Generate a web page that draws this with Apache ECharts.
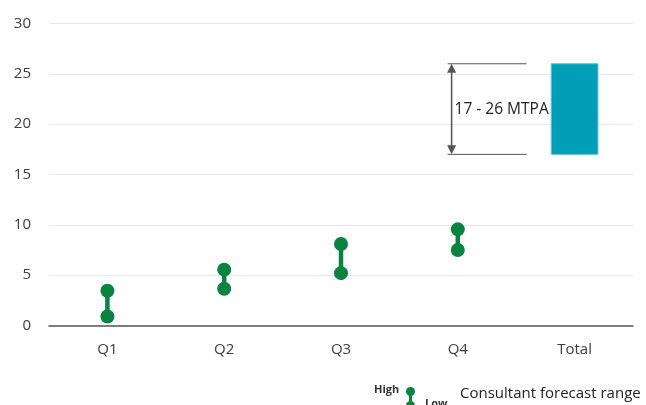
<!DOCTYPE html>
<html>
<head>
<meta charset="utf-8">
<script src="https://cdn.jsdelivr.net/npm/echarts@6/dist/echarts.min.js"></script>
<style>
  html, body { margin: 0; padding: 0; background: #fff; }
  #chart { width: 646px; height: 405px; }
</style>
</head>
<body>
<div id="chart"></div>
<script>
// Quarterly consultant forecast ranges (MTPA) and the full-year total range
const categories = ['Q1', 'Q2', 'Q3', 'Q4', 'Total'];
const lowValues  = [0.9, 3.65, 5.2, 7.5];
const highValues = [3.45, 5.55, 8.1, 9.55];
const totalRange = [17, 26];
const yTicks = [0, 5, 10, 15, 20, 25, 30];
const unitLabel = 'MTPA';
const legendText = 'Consultant forecast range';

const GREEN = '#0a8240';
const TEAL = '#009fb7';
const FONT = '"Open Sans"';
const TEXT = '#3d3d3d';

const rangeData = lowValues.map((lo, i) => [i, lo, highValues[i]]);
const totalIdx = categories.indexOf('Total');

const chart = echarts.init(document.getElementById('chart'), null, { renderer: 'canvas' });

chart.setOption({
  animation: false,
  grid: { left: 49, right: 13, top: 23.5, bottom: 79.5 },
  xAxis: {
    type: 'category',
    data: categories,
    axisLine: { lineStyle: { color: '#555', width: 1.5 } },
    axisTick: { show: false },
    axisLabel: { color: TEXT, fontFamily: FONT, fontSize: 15, margin: 17 }
  },
  yAxis: {
    type: 'value',
    min: yTicks[0],
    max: yTicks[yTicks.length - 1],
    interval: yTicks[1] - yTicks[0],
    axisLine: { show: false },
    axisTick: { show: false },
    splitLine: { lineStyle: { color: '#e8e8e8', width: 1 } },
    axisLabel: { color: TEXT, fontFamily: FONT, fontSize: 15, margin: 18 }
  },
  series: [
    {
      // low–high dumbbells per quarter
      type: 'custom',
      data: rangeData,
      renderItem(params, api) {
        const lo = api.coord([api.value(0), api.value(1)]);
        const hi = api.coord([api.value(0), api.value(2)]);
        return {
          type: 'group',
          children: [
            { type: 'line', shape: { x1: lo[0], y1: lo[1], x2: hi[0], y2: hi[1] },
              style: { stroke: GREEN, lineWidth: 4.5 } },
            { type: 'circle', shape: { cx: hi[0], cy: hi[1], r: 7 }, style: { fill: GREEN } },
            { type: 'circle', shape: { cx: lo[0], cy: lo[1], r: 7 }, style: { fill: GREEN } }
          ]
        };
      }
    },
    {
      // full-year total range as a floating bar
      type: 'custom',
      data: [[totalIdx, totalRange[0], totalRange[1]]],
      renderItem(params, api) {
        const lo = api.coord([api.value(0), api.value(1)]);
        const hi = api.coord([api.value(0), api.value(2)]);
        const w = api.size([1, 0])[0] * 0.4;
        return {
          type: 'rect',
          shape: { x: lo[0] - w / 2, y: hi[1], width: w, height: lo[1] - hi[1] },
          style: { fill: TEAL, stroke: '#5cc3d2', lineWidth: 1 }
        };
      }
    },
    {
      // dimension bracket with arrows and range label left of the total bar
      type: 'custom',
      data: [[totalIdx, totalRange[0], totalRange[1]]],
      z: 5,
      renderItem(params, api) {
        const lo = api.coord([api.value(0), api.value(1)]);
        const hi = api.coord([api.value(0), api.value(2)]);
        const cx = lo[0];
        const ax = cx - 123;
        const stroke = '#555';
        const ah = 9, aw = 4.5;
        return {
          type: 'group',
          children: [
            { type: 'line', shape: { x1: cx - 127, y1: hi[1], x2: cx - 48, y2: hi[1] },
              style: { stroke, lineWidth: 1 } },
            { type: 'line', shape: { x1: cx - 127, y1: lo[1], x2: cx - 48, y2: lo[1] },
              style: { stroke, lineWidth: 1 } },
            { type: 'line', shape: { x1: ax, y1: hi[1] + ah - 1, x2: ax, y2: lo[1] - ah + 1 },
              style: { stroke, lineWidth: 1.5 } },
            { type: 'polygon', shape: { points: [[ax, hi[1]], [ax - aw, hi[1] + ah], [ax + aw, hi[1] + ah]] },
              style: { fill: stroke } },
            { type: 'polygon', shape: { points: [[ax, lo[1]], [ax - aw, lo[1] - ah], [ax + aw, lo[1] - ah]] },
              style: { fill: stroke } },
            { type: 'text', x: ax + 3, y: (hi[1] + lo[1]) / 2 + 0.5,
              style: { text: api.value(1) + ' - ' + api.value(2) + ' ' + unitLabel,
                       fill: '#222', font: '15.5px ' + FONT, align: 'left', verticalAlign: 'middle' } }
          ]
        };
      }
    }
  ],
  graphic: [
    { type: 'text', left: 374, top: 384,
      style: { text: 'High', fill: '#333', font: 'bold 11px ' + FONT } },
    { type: 'group', left: 406, top: 387, children: [
      { type: 'line', shape: { x1: 5, y1: 5, x2: 5, y2: 18 }, style: { stroke: GREEN, lineWidth: 3 } },
      { type: 'circle', shape: { cx: 5, cy: 5, r: 4.5 }, style: { fill: GREEN } },
      { type: 'circle', shape: { cx: 5, cy: 19, r: 4.5 }, style: { fill: GREEN } }
    ] },
    { type: 'text', left: 425, top: 398,
      style: { text: 'Low', fill: '#333', font: 'bold 11px ' + FONT } },
    { type: 'text', left: 460, top: 386,
      style: { text: legendText, fill: '#222', font: '15px ' + FONT } }
  ]
});
</script>
</body>
</html>
